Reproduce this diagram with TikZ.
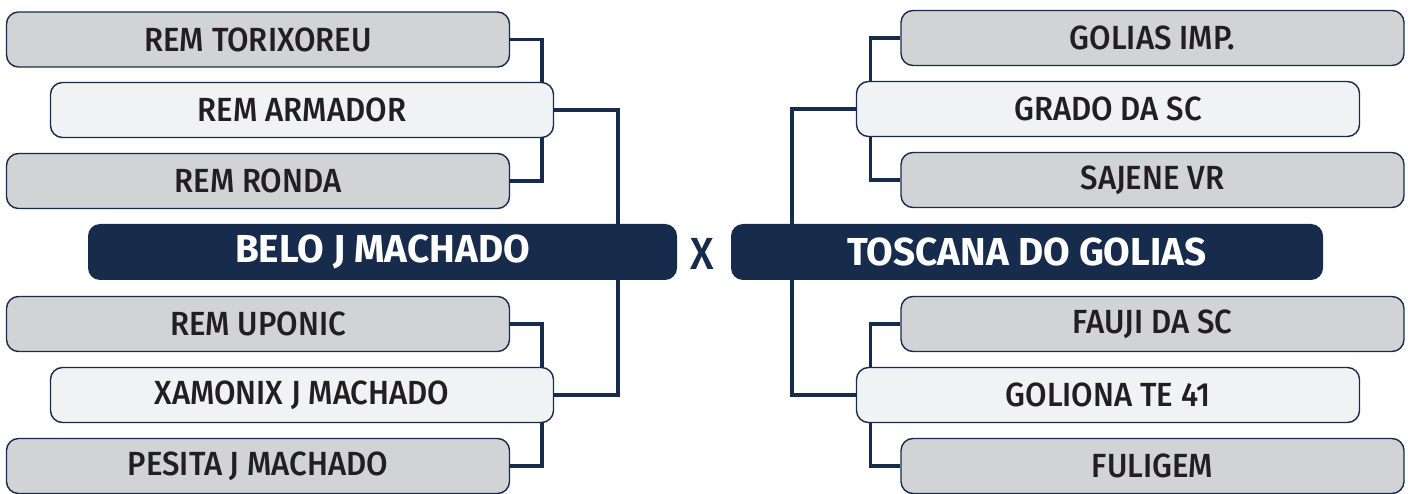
\documentclass[tikz,border=0pt]{standalone}
\usepackage{fontspec}
\newfontfamily\teamfont{Fira Sans}[UprightFont=* Medium, FakeStretch=0.93]
\newfontfamily\finalfont{Fira Sans}[UprightFont=* Bold, FakeStretch=0.99]
\usetikzlibrary{backgrounds}

\definecolor{navy}{HTML}{172B4D}
\definecolor{boxgray}{HTML}{D1D3D5}
\definecolor{boxlight}{HTML}{F1F2F4}
\definecolor{ink}{HTML}{231F20}

\begin{document}
\begin{tikzpicture}[x=1pt, y=-1pt,
    team/.style={draw=navy, line width=1.4pt, rounded corners=12pt, align=center, minimum width=503pt, minimum height=55pt, inner sep=0pt, text=ink, font=\fontsize{33.5}{33.5}\teamfont},
    gray/.style={team, fill=boxgray},
    light/.style={team, fill=boxlight},
    final/.style={fill=navy, rounded corners=12pt, minimum height=56pt, inner sep=0pt, text=white, font=\fontsize{39}{39}\finalfont},
    link/.style={navy, line width=3.6pt}
  ]
    \useasboundingbox (0,0) rectangle (1408,494);

    % left bracket
    \node[gray]  (tl1) at (258,39.5) {REM TORIXOREU};
    \node[light] (tl2) at (302,110)  {REM ARMADOR};
    \node[gray]  (tl3) at (258,181)  {REM RONDA};
    \node[final, minimum width=589pt] (belo) at (382.5,252) {BELO J MACHADO};
    \node[gray]  (bl1) at (258,324)  {REM UPONIC};
    \node[light] (bl2) at (302,395)  {XAMONIX J MACHADO};
    \node[gray]  (bl3) at (258,466)  {PESITA J MACHADO};

    % right bracket
    \node[gray]  (tr1) at (1152.5,38) {GOLIAS IMP.};
    \node[light] (tr2) at (1108,109)  {GRADO DA SC};
    \node[gray]  (tr3) at (1152.5,180) {SAJENE VR};
    \node[final, minimum width=592pt] (tosc) at (1027,252) {TOSCANA DO GOLIAS};
    \node[gray]  (br1) at (1152.5,324) {FAUJI DA SC};
    \node[light] (br2) at (1108,395)  {GOLIONA TE 41};
    \node[gray]  (br3) at (1152.5,466) {FULIGEM};

    \node[text=navy, inner sep=0pt, font=\fontsize{45}{45}\teamfont] (vs) at (702.5,253.5) {X};

    \begin{scope}[on background layer]
      \draw[link] (tl1.east) -- ++(32,0) |- (tl3.east);
      \draw[link] (bl1.east) -- ++(32,0) |- (bl3.east);
      \draw[link] (tl2.east) -- ++(64,0) |- (bl2.east);
      \draw[link] (tr1.west) -- ++(-30,0) |- (tr3.west);
      \draw[link] (br1.west) -- ++(-30,0) |- (br3.west);
      \draw[link] (tr2.west) -- ++(-64,0) |- (br2.west);
    \end{scope}
  \end{tikzpicture}
\end{document}
